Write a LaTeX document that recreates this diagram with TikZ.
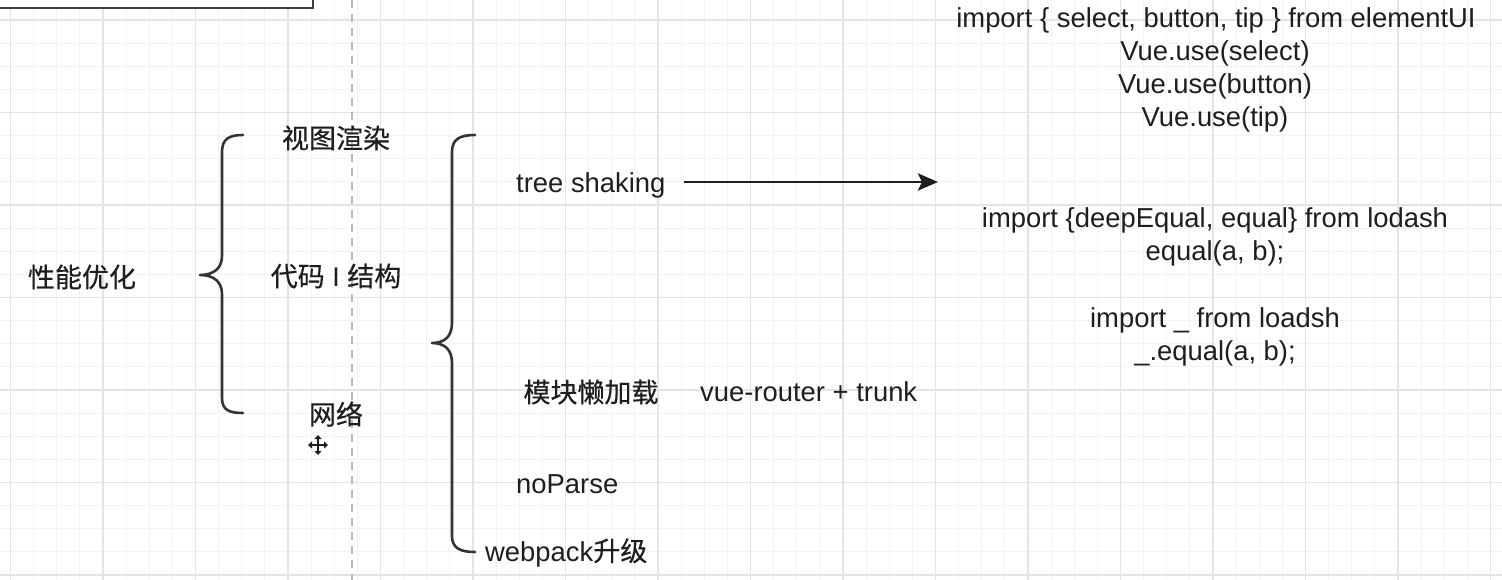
\documentclass[tikz,border=0pt]{standalone}
\usepackage{fontspec}
\setmainfont{Liberation Sans}
\newfontfamily\cjk[FakeBold=0.4]{Noto Sans CJK SC}
\usetikzlibrary{arrows.meta}
\definecolor{ink}{HTML}{1E1E1E}
\definecolor{linec}{HTML}{333333}
\definecolor{majg}{HTML}{E4E4E4}
\definecolor{ming}{HTML}{F3F3F3}
\begin{document}
\begin{tikzpicture}[x=1pt,y=-1pt,
  txt/.style={inner sep=0pt,text=ink,font=\fontsize{27.4}{33}\selectfont},
  cjktxt/.style={inner sep=0pt,text=ink,font=\fontsize{27}{33}\selectfont\cjk},
  brace/.style={draw=linec,line width=2.6pt,line cap=round,line join=round},
  arr/.style={draw=ink,line width=2.8pt,-{Stealth[length=20pt,width=17pt,inset=4pt]}},
  majgrid/.style={draw=majg,line width=1.2pt},
  mingrid/.style={draw=ming,line width=0.8pt}]
\useasboundingbox (0,0) rectangle (1502,580);
\fill[white] (0,0) rectangle (1502,580);
% grid
\foreach \k in {0,...,66} {
  \draw[mingrid] ({-12.625+23.125*\k},0) -- ({-12.625+23.125*\k},580);
}
\foreach \k in {0,...,26} {
  \draw[mingrid] (0,{-3.125+23.125*\k}) -- (1502,{-3.125+23.125*\k});
}
\foreach \k in {0,...,16} {
  \draw[majgrid] ({10.5+92.5*\k},0) -- ({10.5+92.5*\k},580);
}
\foreach \k in {0,...,6} {
  \draw[majgrid] (0,{20+92.5*\k}) -- (1502,{20+92.5*\k});
}
% dashed guide
\draw[draw=gray!55,line width=1.4pt,dash pattern=on 8pt off 6pt] (352,0) -- (352,580);
% top-left box
\draw[draw=ink!85,line width=2.6pt,fill=white] (-10,-10) rectangle (313,8);

% left column
\node[cjktxt] (perf) at (82,277) {性能优化};
\node[cjktxt] (view) at (336,138) {视图渲染};
\node[inner sep=0pt,text=ink,font=\fontsize{27}{33}\selectfont] (code) at (336,276) {{\cjk 代码} I {\cjk 结构}};
\node[cjktxt] (net) at (336,414) {网络};

% brace 1
\draw[brace] (243,135) .. controls (229,135) and (222,139) .. (222,152) -- (222,256)
  .. controls (222,268) and (214,275) .. (200,275)
  .. controls (214,275) and (222,282) .. (222,294) -- (222,398)
  .. controls (222,410) and (229,413) .. (243,413);
% brace 2
\draw[brace] (475,135) .. controls (460,135) and (452,139) .. (452,152) -- (452,323)
  .. controls (452,336) and (445,343) .. (432,343)
  .. controls (445,343) and (452,350) .. (452,363) -- (452,536)
  .. controls (452,548) and (460,552) .. (475,552);

% right column
\node[txt,anchor=base west] (ts) at (516,193) {tree shaking};
\node[cjktxt] (lazy) at (591,392) {模块懒加载};
\node[txt,anchor=base west] (vr) at (700,401) {vue-router + trunk};
\node[txt,anchor=base west] (np) at (516,493) {noParse};
\node[txt,anchor=base west] (wp) at (485,561) {webpack{\cjk\fontsize{27}{33}\selectfont 升级}};

% arrow
\coordinate (arrE) at (938,182);
\draw[arr] ([xshift=18pt]ts.east |- arrE) -- (arrE);

% code blocks
\node[txt,anchor=base] (c1a) at (1216,28) {import \{ select, button, tip \} from elementUI};
\node[txt,anchor=base] (c1b) at (1215,61) {Vue.use(select)};
\node[txt,anchor=base] (c1c) at (1215,94) {Vue.use(button)};
\node[txt,anchor=base] (c1d) at (1215,127) {Vue.use(tip)};
\node[txt,anchor=base] (c2a) at (1215,228) {import \{deepEqual, equal\} from lodash};
\node[txt,anchor=base] (c2b) at (1215,261) {equal(a, b);};
\node[txt,anchor=base] (c2c) at (1215,327) {import \_ from loadsh};
\node[txt,anchor=base] (c2d) at (1215,360) {\_.equal(a, b);};

% move cursor
\draw[white,line width=4.5pt] (308,445) -- (328,445) (318,435) -- (318,455);
\draw[ink,line width=1.8pt,{Triangle[length=4pt,width=7pt]}-{Triangle[length=4pt,width=7pt]}] (308,445) -- (328,445);
\draw[ink,line width=1.8pt,{Triangle[length=4pt,width=7pt]}-{Triangle[length=4pt,width=7pt]}] (318,435) -- (318,455);
\end{tikzpicture}
\end{document}
